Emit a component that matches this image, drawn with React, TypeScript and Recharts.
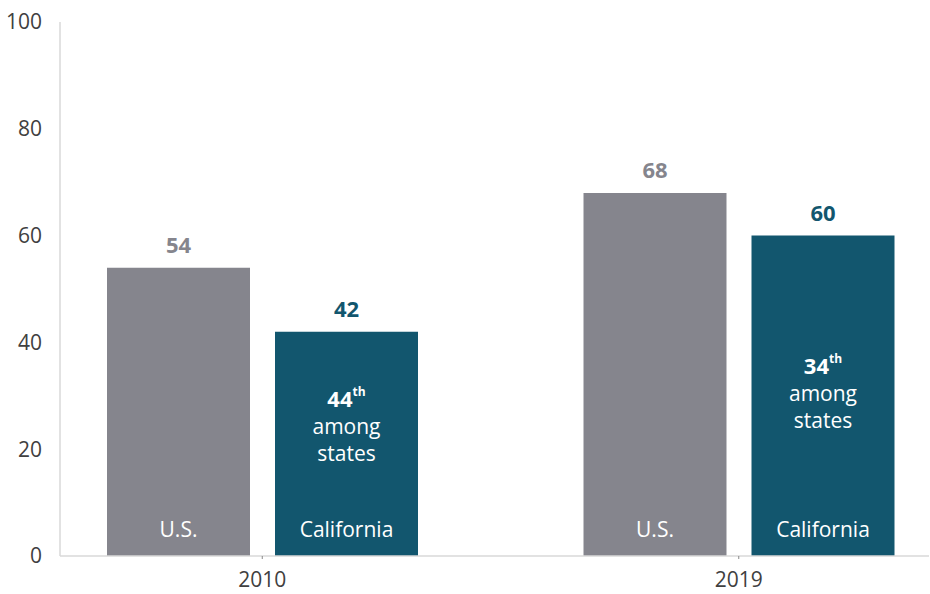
import React from "react";
import {
  BarChart,
  Bar,
  XAxis,
  YAxis,
  LabelList,
} from "recharts";

const years = ["2010", "2019"];
const usValues = [54, 68];
const caValues = [42, 60];
const caRanks = ["44", "34"];
const yTicks = [0, 20, 40, 60, 80, 100];

const data = years.map((year, i) => ({
  year,
  us: usValues[i],
  ca: caValues[i],
  rank: caRanks[i],
}));

const GRAY = "#85858d";
const TEAL = "#12566e";
const FONT = "'Open Sans', sans-serif";
// distance from the top of the California bar to the rank line
const RANK_OFFSET = [66, 129];

const ValueLabel = (color: string) => (props: any) => {
  const { x, y, width, value } = props;
  return (
    <text
      x={x + width / 2}
      y={y - 24}
      textAnchor="middle"
      dominantBaseline="central"
      fill={color}
      fontFamily={FONT}
      fontWeight={700}
      fontSize={22}
    >
      {value}
    </text>
  );
};

const NameLabel = (name: string) => (props: any) => {
  const { x, y, width, height } = props;
  return (
    <text
      x={x + width / 2}
      y={y + height - 27}
      textAnchor="middle"
      dominantBaseline="central"
      fill="#ffffff"
      fontFamily={FONT}
      fontSize={21}
    >
      {name}
    </text>
  );
};

const RankLabel = (props: any) => {
  const { x, y, width, index } = props;
  const cx = x + width / 2;
  const top = y + RANK_OFFSET[index];
  return (
    <g fontFamily={FONT} fill="#ffffff">
      <text x={cx} y={top} textAnchor="middle" dominantBaseline="central">
        <tspan fontSize={22} fontWeight={700}>
          {data[index].rank}
        </tspan>
        <tspan fontSize={12} fontWeight={700} dy={-7}>
          th
        </tspan>
      </text>
      <text x={cx} y={top + 28} textAnchor="middle" dominantBaseline="central" fontSize={21}>
        among
      </text>
      <text x={cx} y={top + 55} textAnchor="middle" dominantBaseline="central" fontSize={21}>
        states
      </text>
    </g>
  );
};

export default function App() {
  return (
    <div style={{ position: "absolute", left: 0, top: 0, width: 930, height: 594, background: "#fff" }}>
      <BarChart
        width={930}
        height={594}
        data={data}
        margin={{ top: 22, right: 1, bottom: 8, left: 0 }}
        barSize={143}
        barGap={25}
      >
        <XAxis
          dataKey="year"
          padding={{ left: -36, right: -48 }}
          axisLine={{ stroke: "#d9d9d9", strokeWidth: 1.5 }}
          tickLine={{ stroke: "#888" }}
          tickSize={3}
          tickMargin={13}
          tick={{ fill: "#404040", fontSize: 21, fontFamily: FONT }}
          height={30}
        />
        <YAxis
          domain={[0, 100]}
          ticks={yTicks}
          width={60}
          axisLine={{ stroke: "#d9d9d9", strokeWidth: 1.5 }}
          tickLine={false}
          tickMargin={12}
          tick={{ fill: "#404040", fontSize: 21, fontFamily: FONT }}
        />
        <Bar dataKey="us" fill={GRAY} isAnimationActive={false}>
          <LabelList dataKey="us" content={ValueLabel(GRAY)} />
          <LabelList dataKey="us" content={NameLabel("U.S.")} />
        </Bar>
        <Bar dataKey="ca" fill={TEAL} isAnimationActive={false}>
          <LabelList dataKey="ca" content={ValueLabel(TEAL)} />
          <LabelList dataKey="ca" content={NameLabel("California")} />
          <LabelList dataKey="rank" content={RankLabel} />
        </Bar>
      </BarChart>
    </div>
  );
}
